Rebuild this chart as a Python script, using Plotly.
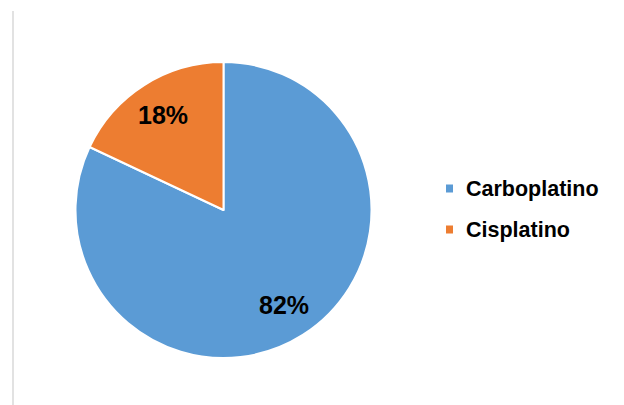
import math
import plotly.graph_objects as go

# Treatment share by platinum agent
labels = ["Carboplatino", "Cisplatino"]
values = [82, 18]
colors = ["#5B9BD5", "#ED7D31"]

W, H = 624, 405
FONT = "Liberation Sans, Arial, sans-serif"

# pie geometry in pixels
CX, CY, R = 223.5, 210, 148

fig = go.Figure(
    go.Pie(
        labels=labels,
        values=values,
        sort=False,
        direction="clockwise",
        rotation=0,
        marker=dict(colors=colors, line=dict(color="white", width=2)),
        textinfo="none",
        domain=dict(x=[(CX - R) / W, (CX + R) / W],
                    y=[1 - (CY + R) / H, 1 - (CY - R) / H]),
        showlegend=False,
        hoverinfo="label+percent",
    )
)

shapes = []
annotations = []

# percentage labels placed at each slice's mid-angle
total = sum(values)
start = 0.0
for v in values:
    frac = v / total
    mid = (start + frac / 2) * 2 * math.pi  # clockwise from 12 o'clock
    start += frac
    d = 0.76 * R
    px = CX + d * math.sin(mid)
    py = CY - d * math.cos(mid)
    annotations.append(dict(
        xref="paper", yref="paper", x=px / W, y=1 - py / H,
        xanchor="center", yanchor="middle", showarrow=False,
        text=f"<b>{round(frac * 100)}%</b>",
        font=dict(family=FONT, size=25, color="black"),
    ))

# legend: squares + labels
row_y = [189, 230]
for lab, col, y in zip(labels, colors, row_y):
    shapes.append(dict(
        type="rect", xref="paper", yref="paper",
        x0=446 / W, x1=453 / W, y0=1 - (y + 3.5) / H, y1=1 - (y - 4.5) / H,
        fillcolor=col, line=dict(width=0),
    ))
    annotations.append(dict(
        xref="paper", yref="paper", x=464 / W, y=1 - y / H,
        xanchor="left", yanchor="middle", showarrow=False,
        text=f"<b>{lab}</b>",
        font=dict(family=FONT, size=21.5, color="black"),
    ))

# thin light-grey rule along the left edge
shapes.append(dict(
    type="line", xref="paper", yref="paper",
    x0=13 / W, x1=13 / W, y0=0, y1=1 - 11 / H,
    line=dict(color="#d9d9d9", width=1.5),
))

fig.update_layout(
    width=W, height=H,
    margin=dict(l=0, r=0, t=0, b=0),
    paper_bgcolor="white",
    plot_bgcolor="white",
    shapes=shapes,
    annotations=annotations,
)

fig.write_html("out.html")
